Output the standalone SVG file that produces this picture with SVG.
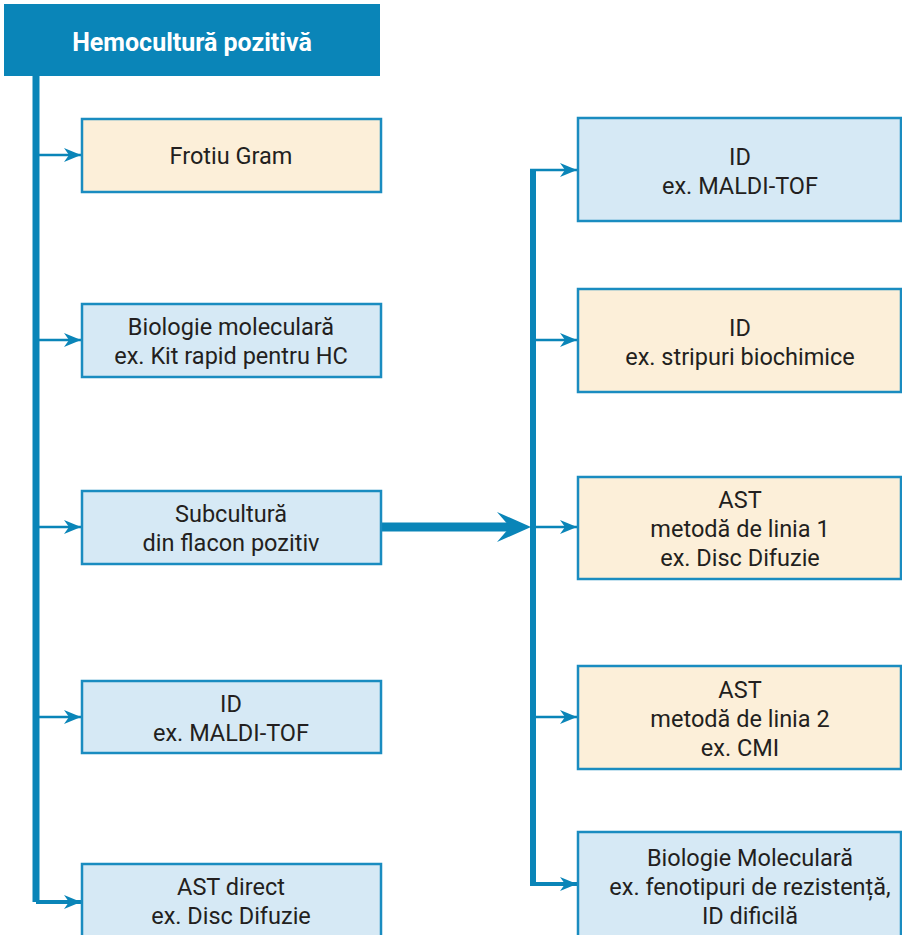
<svg xmlns="http://www.w3.org/2000/svg" width="902" height="935" viewBox="0 0 902 935">
<style>
.box{stroke:#1a8cc0;stroke-width:2.5}
.blue{fill:#d6e9f5}
.beige{fill:#fcefd9}
.t{font-family:Roboto,"Liberation Sans",sans-serif;font-size:23.5px;fill:#231f20;text-anchor:middle}
.h{font-family:Roboto,"Liberation Sans",sans-serif;font-size:25px;font-weight:bold;fill:#ffffff;text-anchor:middle}
.thin{stroke:#0a85b8;stroke-width:2.5;fill:none}
.trunk{stroke:#0a85b8;stroke-width:7;fill:none}
</style>
<defs>
<marker id="ah" markerWidth="18" markerHeight="14" refX="17" refY="7" orient="auto" markerUnits="userSpaceOnUse">
<path d="M0,0 L17,7 L0,14 L5,7 Z" fill="#0a85b8"/>
</marker>
</defs>
<g id="connectors">
<path class="trunk" d="M36,76 V902"/>
<path class="thin" d="M36,902 H81" style="stroke-width:4" marker-end="url(#ah)"/>
<path class="thin" d="M39,155 H81" marker-end="url(#ah)"/>
<path class="thin" d="M39,340 H81" marker-end="url(#ah)"/>
<path class="thin" d="M39,527 H81" marker-end="url(#ah)"/>
<path class="thin" d="M39,717 H81" marker-end="url(#ah)"/>
<path class="trunk" d="M533,170 V884" style="stroke-width:6"/>
<path class="thin" d="M530,170 H577" marker-end="url(#ah)"/>
<path class="thin" d="M536,340 H577" marker-end="url(#ah)"/>
<path class="thin" d="M536,527 H577" marker-end="url(#ah)"/>
<path class="thin" d="M536,717 H577" marker-end="url(#ah)"/>
<path class="thin" d="M530,884 H577" style="stroke-width:4" marker-end="url(#ah)"/>
<path d="M381,527 H512" stroke="#0a85b8" stroke-width="9" fill="none"/>
<path d="M497,512 L531,527 L497,542 L510,527 Z" fill="#0a85b8"/>
</g>
<g id="header">
<rect x="4" y="4" width="376" height="72" fill="#0a85b8"/>
<text class="h" x="192" y="51">Hemocultură pozitivă</text>
</g>
<g id="frotiu">
<rect class="box beige" x="82" y="119" width="299" height="73"/>
<text class="t" x="231" y="164">Frotiu Gram</text>
</g>
<g id="biologie">
<rect class="box blue" x="82" y="304" width="299" height="73"/>
<text class="t" x="231" y="335">Biologie moleculară</text>
<text class="t" x="231" y="364">ex. Kit rapid pentru HC</text>
</g>
<g id="subcultura">
<rect class="box blue" x="82" y="491" width="299" height="73"/>
<text class="t" x="231" y="522">Subcultură</text>
<text class="t" x="231" y="551">din flacon pozitiv</text>
</g>
<g id="id-left">
<rect class="box blue" x="82" y="681" width="299" height="72"/>
<text class="t" x="231" y="712">ID</text>
<text class="t" x="231" y="741">ex. MALDI-TOF</text>
</g>
<g id="ast-direct">
<rect class="box blue" x="82" y="864" width="299" height="80"/>
<text class="t" x="231" y="895">AST direct</text>
<text class="t" x="231" y="924">ex. Disc Difuzie</text>
</g>
<g id="id-maldi">
<rect class="box blue" x="578" y="118" width="323" height="103"/>
<text class="t" x="740" y="165">ID</text>
<text class="t" x="740" y="194">ex. MALDI-TOF</text>
</g>
<g id="id-stripuri">
<rect class="box beige" x="578" y="289" width="323" height="103"/>
<text class="t" x="740" y="336">ID</text>
<text class="t" x="740" y="365">ex. stripuri biochimice</text>
</g>
<g id="ast1">
<rect class="box beige" x="578" y="477" width="323" height="102"/>
<text class="t" x="740" y="508">AST</text>
<text class="t" x="740" y="537">metodă de linia 1</text>
<text class="t" x="740" y="566">ex. Disc Difuzie</text>
</g>
<g id="ast2">
<rect class="box beige" x="578" y="666" width="323" height="103"/>
<text class="t" x="740" y="698">AST</text>
<text class="t" x="740" y="727">metodă de linia 2</text>
<text class="t" x="740" y="756">ex. CMI</text>
</g>
<g id="biomol">
<rect class="box blue" x="578" y="832" width="323" height="112"/>
<text class="t" x="750" y="866">Biologie Moleculară</text>
<text class="t" x="750" y="895">ex. fenotipuri de rezistență,</text>
<text class="t" x="750" y="924">ID dificilă</text>
</g>
</svg>
